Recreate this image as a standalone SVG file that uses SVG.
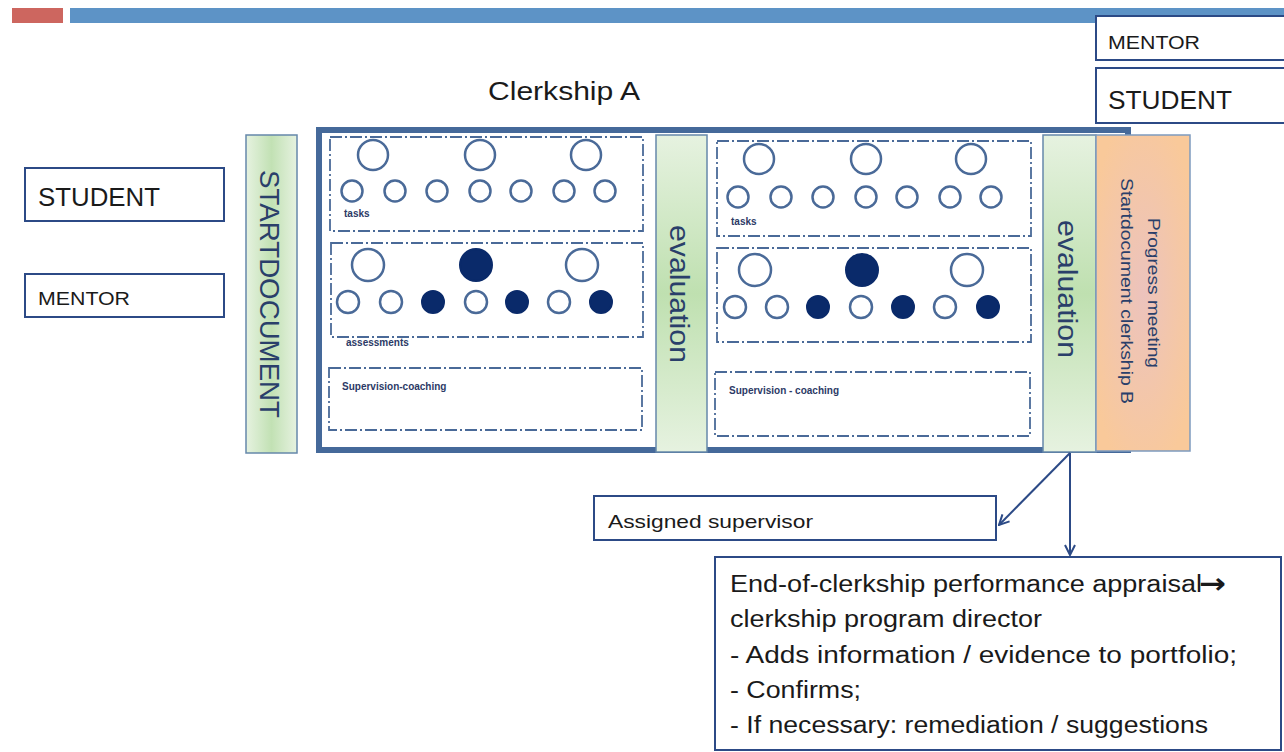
<svg xmlns="http://www.w3.org/2000/svg" width="1284" height="752" viewBox="0 0 1284 752">
<defs>
<linearGradient id="gv" x1="0" y1="0" x2="0" y2="1"><stop offset="0" stop-color="#e6f2e0"/><stop offset="0.5" stop-color="#bfe0b0"/><stop offset="1" stop-color="#e6f2e0"/></linearGradient>
<linearGradient id="gh" x1="0" y1="0" x2="1" y2="0"><stop offset="0" stop-color="#e6f2e0"/><stop offset="0.5" stop-color="#c2e1b4"/><stop offset="1" stop-color="#e6f2e0"/></linearGradient>
<radialGradient id="go" cx="0.5" cy="0.5" r="0.6"><stop offset="0" stop-color="#ecc3bd"/><stop offset="1" stop-color="#f9c99a"/></radialGradient>
<marker id="ar" viewBox="0 0 12 12" refX="11" refY="6" markerWidth="12" markerHeight="12" markerUnits="userSpaceOnUse" orient="auto"><path d="M1,1 L11,6 L1,11" fill="none" stroke="#2c4a86" stroke-width="2"/></marker>
<style>
.box{fill:#fff;stroke:#2c4a86;stroke-width:2}
.t{font-family:"Liberation Sans",Arial,sans-serif;fill:#1a1a1a}
.dash{fill:#fff;stroke:#4a6a98;stroke-width:1.8;stroke-dasharray:12 3 2 3}
.oc{fill:#fff;stroke:#4a6a98;stroke-width:2.5}
.fc{fill:#0a2a6a;stroke:#0a2a6a;stroke-width:2}
.lbl{font-family:"Liberation Sans",Arial,sans-serif;font-weight:bold;font-size:10px;fill:#2c3a66}
.ev{font-family:"Liberation Sans",Arial,sans-serif;font-size:27px;fill:#2a3f6a}
.bar{stroke:#6688aa;stroke-width:1.5}
</style>
</defs>
<g id="header">
<rect x="12" y="8" width="51" height="15" fill="#cd665f"/>
<rect x="70" y="8" width="1214" height="15" fill="#5d93c6"/>
</g>
<g id="mentor-top"><rect class="box" x="1096" y="16" width="200" height="44"/><text class="t" x="1108" y="49" font-size="19" textLength="92" lengthAdjust="spacingAndGlyphs">MENTOR</text></g>
<g id="student-top"><rect class="box" x="1096" y="68" width="200" height="55"/><text class="t" x="1108" y="109" font-size="26" textLength="124" lengthAdjust="spacingAndGlyphs">STUDENT</text></g>
<g id="title"><text class="t" x="488" y="100" font-size="26" textLength="152" lengthAdjust="spacingAndGlyphs">Clerkship A</text></g>
<g id="student-left"><rect class="box" x="25" y="168" width="199" height="53"/><text class="t" x="38" y="206" font-size="26" textLength="122" lengthAdjust="spacingAndGlyphs">STUDENT</text></g>
<g id="mentor-left"><rect class="box" x="25" y="274" width="199" height="43"/><text class="t" x="38" y="305" font-size="19" textLength="92" lengthAdjust="spacingAndGlyphs">MENTOR</text></g>
<g id="startdocument">
<rect x="246" y="135" width="51" height="318" fill="url(#gh)" class="bar"/>
<text class="ev" transform="translate(260,170) rotate(90)" font-size="27" textLength="248" lengthAdjust="spacingAndGlyphs">STARTDOCUMENT</text>
</g>
<g id="clerkship-frame">
<rect x="319" y="130" width="809" height="320" fill="#fff" stroke="#45699a" stroke-width="6"/>
</g>
<g id="panel-a">
<rect class="dash" x="330" y="137" width="313" height="94"/>
<circle class="oc" cx="373" cy="155" r="15"/><circle class="oc" cx="480" cy="155" r="15"/><circle class="oc" cx="586" cy="155" r="15"/>
<circle class="oc" cx="352" cy="191" r="10.5"/><circle class="oc" cx="395" cy="191" r="10.5"/><circle class="oc" cx="437" cy="191" r="10.5"/><circle class="oc" cx="480" cy="191" r="10.5"/><circle class="oc" cx="521" cy="191" r="10.5"/><circle class="oc" cx="564" cy="191" r="10.5"/><circle class="oc" cx="605" cy="191" r="10.5"/>
<text class="lbl" x="344" y="217">tasks</text>
<rect class="dash" x="331" y="243" width="312" height="94"/>
<circle class="oc" cx="368" cy="265" r="16"/><circle class="fc" cx="476" cy="265" r="16"/><circle class="oc" cx="582" cy="265" r="16"/>
<circle class="oc" cx="348" cy="302" r="11"/><circle class="oc" cx="391" cy="302" r="11"/><circle class="fc" cx="433" cy="302" r="11"/><circle class="oc" cx="476" cy="302" r="11"/><circle class="fc" cx="517" cy="302" r="11"/><circle class="oc" cx="559" cy="302" r="11"/><circle class="fc" cx="601" cy="302" r="11"/>
<text class="lbl" x="346" y="346">assessments</text>
<rect class="dash" x="329" y="368" width="313" height="62"/>
<text class="lbl" x="342" y="390">Supervision-coaching</text>
</g>
<g id="evaluation-a">
<rect x="656" y="135" width="51" height="317" fill="url(#gv)" class="bar"/>
<text class="ev" transform="translate(670,225) rotate(90)" textLength="138" lengthAdjust="spacingAndGlyphs">evaluation</text>
</g>
<g id="panel-b">
<rect class="dash" x="717" y="141" width="314" height="95"/>
<circle class="oc" cx="759" cy="159" r="15"/><circle class="oc" cx="866" cy="159" r="15"/><circle class="oc" cx="971" cy="159" r="15"/>
<circle class="oc" cx="738" cy="197" r="10.5"/><circle class="oc" cx="781" cy="197" r="10.5"/><circle class="oc" cx="823" cy="197" r="10.5"/><circle class="oc" cx="866" cy="197" r="10.5"/><circle class="oc" cx="907" cy="197" r="10.5"/><circle class="oc" cx="950" cy="197" r="10.5"/><circle class="oc" cx="991" cy="197" r="10.5"/>
<text class="lbl" x="731" y="225">tasks</text>
<rect class="dash" x="717" y="248" width="314" height="94"/>
<circle class="oc" cx="755" cy="270" r="16"/><circle class="fc" cx="862" cy="270" r="16"/><circle class="oc" cx="967" cy="270" r="16"/>
<circle class="oc" cx="735" cy="307" r="11"/><circle class="oc" cx="777" cy="307" r="11"/><circle class="fc" cx="818" cy="307" r="11"/><circle class="oc" cx="861" cy="307" r="11"/><circle class="fc" cx="903" cy="307" r="11"/><circle class="oc" cx="945" cy="307" r="11"/><circle class="fc" cx="988" cy="307" r="11"/>
<rect class="dash" x="715" y="372" width="315" height="64"/>
<text class="lbl" x="729" y="394">Supervision - coaching</text>
</g>
<g id="evaluation-b">
<rect x="1043" y="135" width="53" height="317" fill="url(#gv)" class="bar"/>
<text class="ev" transform="translate(1058,220) rotate(90)" textLength="138" lengthAdjust="spacingAndGlyphs">evaluation</text>
</g>
<g id="progress-meeting">
<rect x="1096" y="135" width="94" height="316" fill="url(#go)" stroke="#7d9bbf" stroke-width="1.5"/>
<text class="t" transform="translate(1148,218) rotate(90)" font-size="16" textLength="150" lengthAdjust="spacingAndGlyphs" style="fill:#2a3f6a">Progress meeting</text>
<text class="t" transform="translate(1121,178) rotate(90)" font-size="16" textLength="226" lengthAdjust="spacingAndGlyphs" style="fill:#2a3f6a">Startdocument clerkship B</text>
</g>
<g id="connectors">
<line x1="1070" y1="453" x2="999" y2="525" stroke="#2c4a86" stroke-width="2" marker-end="url(#ar)"/>
<line x1="1070" y1="453" x2="1070" y2="555" stroke="#2c4a86" stroke-width="2" marker-end="url(#ar)"/>
</g>
<g id="assigned-supervisor"><rect class="box" x="594" y="496" width="402" height="44"/><text class="t" x="608" y="528" font-size="19" textLength="205" lengthAdjust="spacingAndGlyphs">Assigned supervisor</text></g>
<g id="appraisal">
<rect class="box" x="715" y="557" width="566" height="193"/>
<text class="t" x="730" y="592" font-size="23" textLength="472" lengthAdjust="spacingAndGlyphs">End-of-clerkship performance appraisal</text>
<text x="1199" y="593" font-family="DejaVu Sans, sans-serif" font-size="28" font-weight="bold" fill="#1a1a1a" textLength="27" lengthAdjust="spacingAndGlyphs">→</text>
<text class="t" x="730" y="627" font-size="23" textLength="312" lengthAdjust="spacingAndGlyphs">clerkship program director</text>
<text class="t" x="730" y="663" font-size="23" textLength="507" lengthAdjust="spacingAndGlyphs">- Adds information / evidence to portfolio;</text>
<text class="t" x="730" y="698" font-size="23" textLength="131" lengthAdjust="spacingAndGlyphs">- Confirms;</text>
<text class="t" x="730" y="733" font-size="23" textLength="478" lengthAdjust="spacingAndGlyphs">- If necessary: remediation / suggestions</text>
</g>
</svg>
